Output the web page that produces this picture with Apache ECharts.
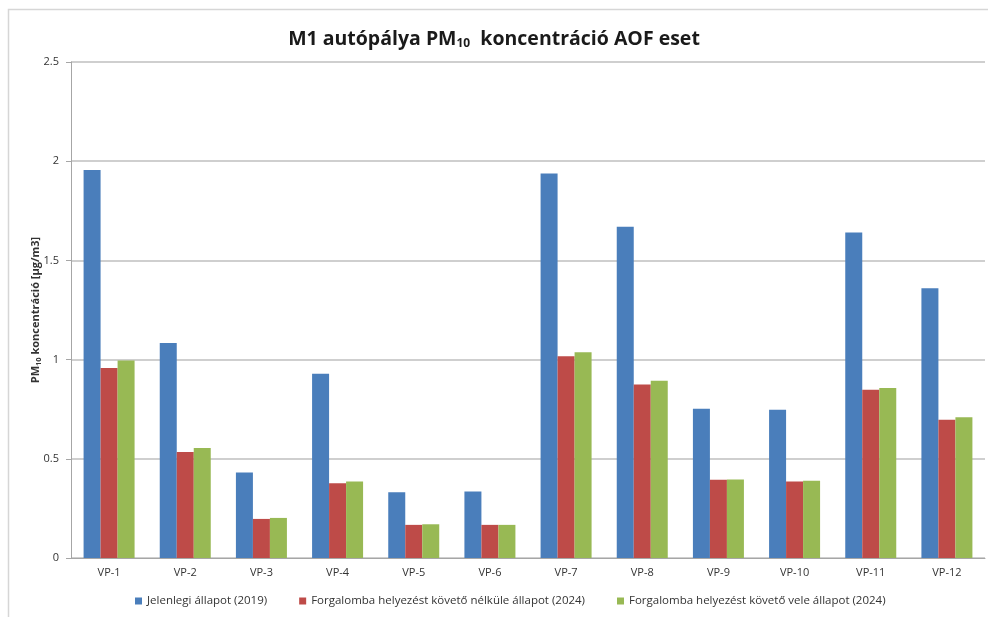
<!DOCTYPE html>
<html>
<head>
<meta charset="utf-8">
<script src="https://cdn.jsdelivr.net/npm/echarts@6/dist/echarts.min.js"></script>
<style>
html,body{margin:0;padding:0;background:#fff;}
#c{width:988px;height:617px;}
</style>
</head>
<body>
<div id="c"></div>
<script>
var categories = ['VP-1','VP-2','VP-3','VP-4','VP-5','VP-6','VP-7','VP-8','VP-9','VP-10','VP-11','VP-12'];
var seriesNames = ['Jelenlegi állapot (2019)','Forgalomba helyezést követő nélküle állapot (2024)','Forgalomba helyezést követő vele állapot (2024)'];
var jelenlegi = [1.956,1.084,0.431,0.929,0.332,0.335,1.938,1.670,0.752,0.747,1.640,1.359];
var nelkule   = [0.958,0.534,0.197,0.377,0.167,0.167,1.017,0.874,0.394,0.385,0.848,0.697];
var vele      = [0.995,0.554,0.202,0.386,0.170,0.167,1.037,0.894,0.396,0.389,0.857,0.709];
var yTicks = [0,0.5,1,1.5,2,2.5];
var colors = ['#4a7ebb','#be4b48','#98b954'];

var chart = echarts.init(document.getElementById('c'));
var font = 'Open Sans, Noto Sans, sans-serif';
var mk = function(name, data, i){
  return {name:name,type:'bar',data:data,barWidth:17,barGap:'0%',
    itemStyle:{color:colors[i]}};
};
chart.setOption({
  backgroundColor:'#fff',
  animation:false,
  graphic:[{type:'rect',shape:{x:8.5,y:9.5,width:1000,height:700},
    style:{fill:'none',stroke:'#d6d6d6',lineWidth:1.5},silent:true}],
  title:{
    text:'{t|M1 autópálya PM}{s|10}{t|  koncentráció AOF eset}',
    left:'center', top:23,
    textStyle:{rich:{
      t:{fontSize:19.5,fontWeight:'bold',color:'#1a1a1a',fontFamily:font},
      s:{fontSize:12,fontWeight:'bold',color:'#1a1a1a',fontFamily:font,padding:[10,0,0,0]}
    }}
  },
  legend:{
    bottom:5, left:130,
    itemWidth:7,itemHeight:7,itemGap:32,
    icon:'rect',
    textStyle:{fontSize:11.5,color:'#333',fontFamily:font},
    data:seriesNames
  },
  grid:{left:71,right:3,top:62,bottom:59,containLabel:false},
  xAxis:{
    type:'category',data:categories,
    axisLine:{lineStyle:{color:'#a6a6a6'}},
    axisTick:{show:false},
    axisLabel:{fontSize:11,color:'#333',fontFamily:font,margin:9}
  },
  yAxis:{
    type:'value',min:yTicks[0],max:yTicks[yTicks.length-1],interval:0.5,
    name:'{a|PM}{s|10}{a| koncentráció [µg/m3]}',
    nameLocation:'middle',nameGap:28,nameRotate:90,nameMoveOverlap:false,
    nameTextStyle:{rich:{
      a:{fontSize:11,fontWeight:'bold',color:'#333',fontFamily:font},
      s:{fontSize:7.5,fontWeight:'bold',color:'#333',fontFamily:font,padding:[6,0,0,0]}
    }},
    axisLine:{show:true,lineStyle:{color:'#a6a6a6'}},
    axisTick:{show:true,length:5,lineStyle:{color:'#a6a6a6'}},
    axisLabel:{fontSize:11,color:'#333',fontFamily:font,margin:12},
    splitLine:{lineStyle:{color:'#bfbfbf',width:1.5}}
  },
  series:[mk(seriesNames[0],jelenlegi,0),mk(seriesNames[1],nelkule,1),mk(seriesNames[2],vele,2)]
});
</script>
</body>
</html>
